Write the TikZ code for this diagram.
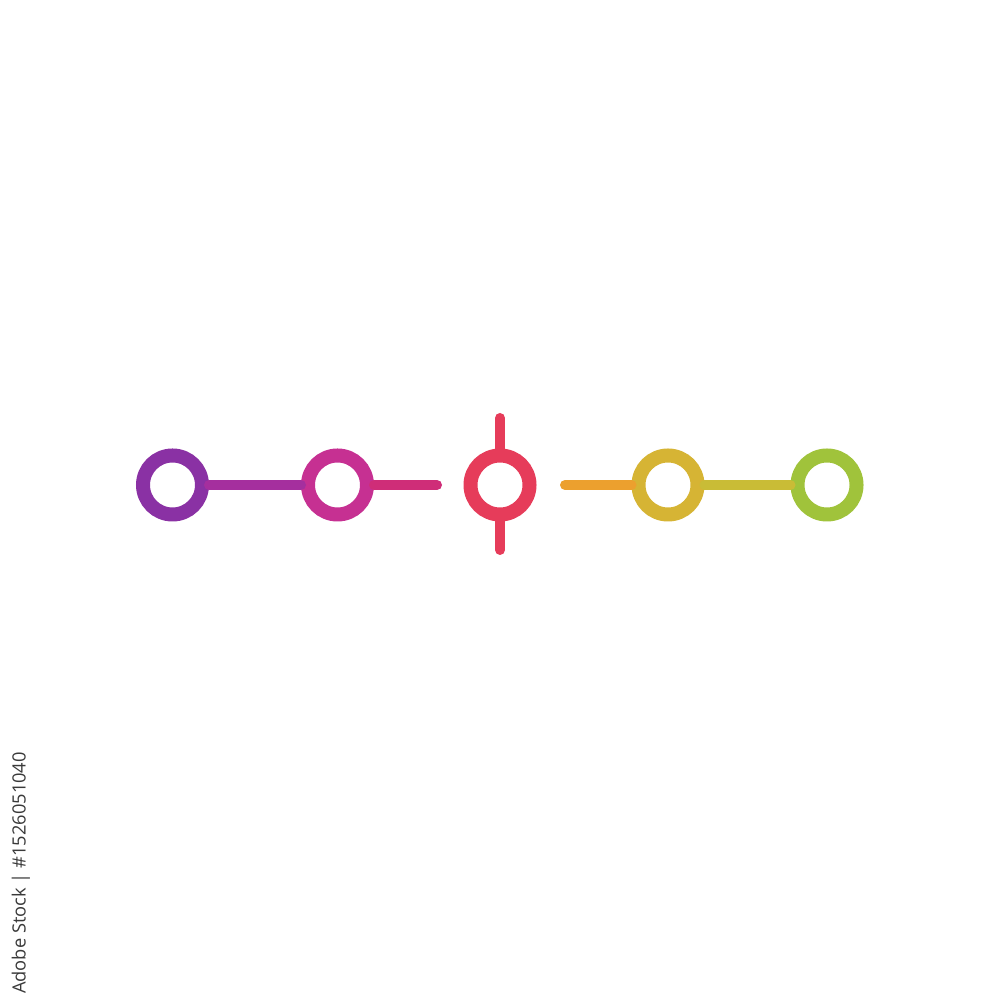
\documentclass[tikz,border=0pt]{standalone}
\usepackage{fontspec}
\setmainfont{Open Sans}
\definecolor{cA}{HTML}{8A31A4}
\definecolor{cB}{HTML}{C63092}
\definecolor{cC}{HTML}{E63C5A}
\definecolor{cD}{HTML}{D6B434}
\definecolor{cE}{HTML}{A0C33B}
\definecolor{lA}{HTML}{A52F9E}
\definecolor{lB}{HTML}{CF2D78}
\definecolor{lC}{HTML}{ECA02E}
\definecolor{lD}{HTML}{C9BC36}
\definecolor{idtext}{HTML}{3A3A3A}
\tikzset{
  ring/.style={circle, draw=#1, line width=0.14cm, minimum size=0.59cm, inner sep=0pt},
  link/.style={draw=#1, line width=0.10cm, line cap=round},
}
\begin{document}
\begin{tikzpicture}
\useasboundingbox[fill=white] (0,0) rectangle (10,10);
\node[ring=cA] (r1) at (1.725,5.15) {};
\node[ring=cB] (r2) at (3.375,5.15) {};
\node[ring=cC] (r3) at (5.00,5.15) {};
\node[ring=cD] (r4) at (6.68,5.15) {};
\node[ring=cE] (r5) at (8.27,5.15) {};
\coordinate (e2) at (4.37,5.15);
\coordinate (s4) at (5.65,5.15);
\coordinate (t3) at (5.00,5.82);
\coordinate (b3) at (5.00,4.50);
\draw[link=lA] (r1.east) -- (r2.west);
\draw[link=lB] (r2.east) -- (e2);
\draw[link=cC] (r3.north) -- (t3);
\draw[link=cC] (r3.south) -- (b3);
\draw[link=lC] (s4) -- (r4.west);
\draw[link=lD] (r4.east) -- (r5.west);
\node[rotate=90, text=idtext, font=\fontsize{5.2}{6}\selectfont, inner sep=0pt] (id) at (0.21,1.27) {Adobe Stock | \#1526051040};
\end{tikzpicture}
\end{document}
